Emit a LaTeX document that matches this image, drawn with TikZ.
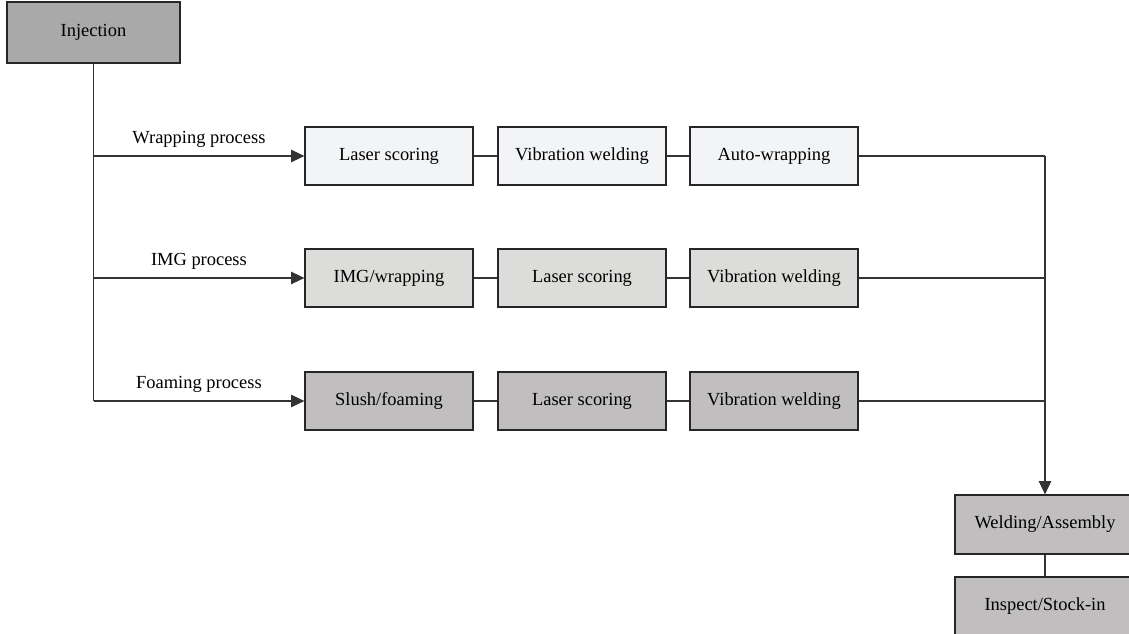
\documentclass[tikz,border=0pt]{standalone}
\usepackage{fontspec}
\setmainfont{Liberation Serif}
\usetikzlibrary{arrows.meta}

\definecolor{shadeInj}{HTML}{A9A9A9}
\definecolor{shadeWrap}{HTML}{F3F4F6}
\definecolor{shadeImg}{HTML}{DCDCDA}
\definecolor{shadeFoam}{HTML}{C0BEBF}

\tikzset{
	stage/.style={draw=black!85, fill=#1, line width=0.7pt, minimum width=3.36cm, minimum height=1.16cm, inner sep=2pt, font=\fontsize{10.5}{12}\selectfont},
	flow/.style={draw=black!80, line width=0.7pt},
	tip/.style={-{Triangle[length=7.5pt,width=7pt]}}
}

\begin{document}
\begin{tikzpicture}
	\useasboundingbox (0,0) rectangle (22.58,-12.68);
	\clip (0,0) rectangle (22.58,-12.68);

	\node[stage=shadeInj, minimum width=3.46cm, minimum height=1.22cm] (inj) at (1.87,-0.65) {Injection};

	\foreach \r/\y/\col/\a/\b/\c/\lab in {
		1/-3.12/shadeWrap/{Laser scoring}/{Vibration welding}/{Auto-wrapping}/{Wrapping process},
		2/-5.56/shadeImg/{IMG/wrapping}/{Laser scoring}/{Vibration welding}/{IMG process},
		3/-8.02/shadeFoam/{Slush/foaming}/{Laser scoring}/{Vibration welding}/{Foaming process}}
	{
		\node[stage=\col] (a\r) at (7.78,\y) {\a};
		\node[stage=\col] (b\r) at (11.64,\y) {\b};
		\node[stage=\col] (c\r) at (15.48,\y) {\c};
		\coordinate (in\r) at (1.87,\y);
		\coordinate (out\r) at (20.9,\y);
		\draw[flow, tip] (in\r) -- node[above, font=\fontsize{10.5}{12}\selectfont, yshift=1pt] {\lab} (a\r);
		\draw[flow] (a\r) -- (b\r);
		\draw[flow] (b\r) -- (c\r);
		\draw[flow] (c\r) -- (out\r);
	}

	\node[stage=shadeFoam, minimum width=3.6cm, minimum height=1.18cm] (weld) at (20.9,-10.49) {Welding/Assembly};
	\node[stage=shadeFoam, minimum width=3.6cm, minimum height=1.18cm] (stock) at (20.9,-12.13) {Inspect/Stock-in};

	\draw[flow] (inj) -- (in3);
	\draw[flow, tip] (out1) -- (weld);
	\draw[flow] (weld) -- (stock);
\end{tikzpicture}
\end{document}
